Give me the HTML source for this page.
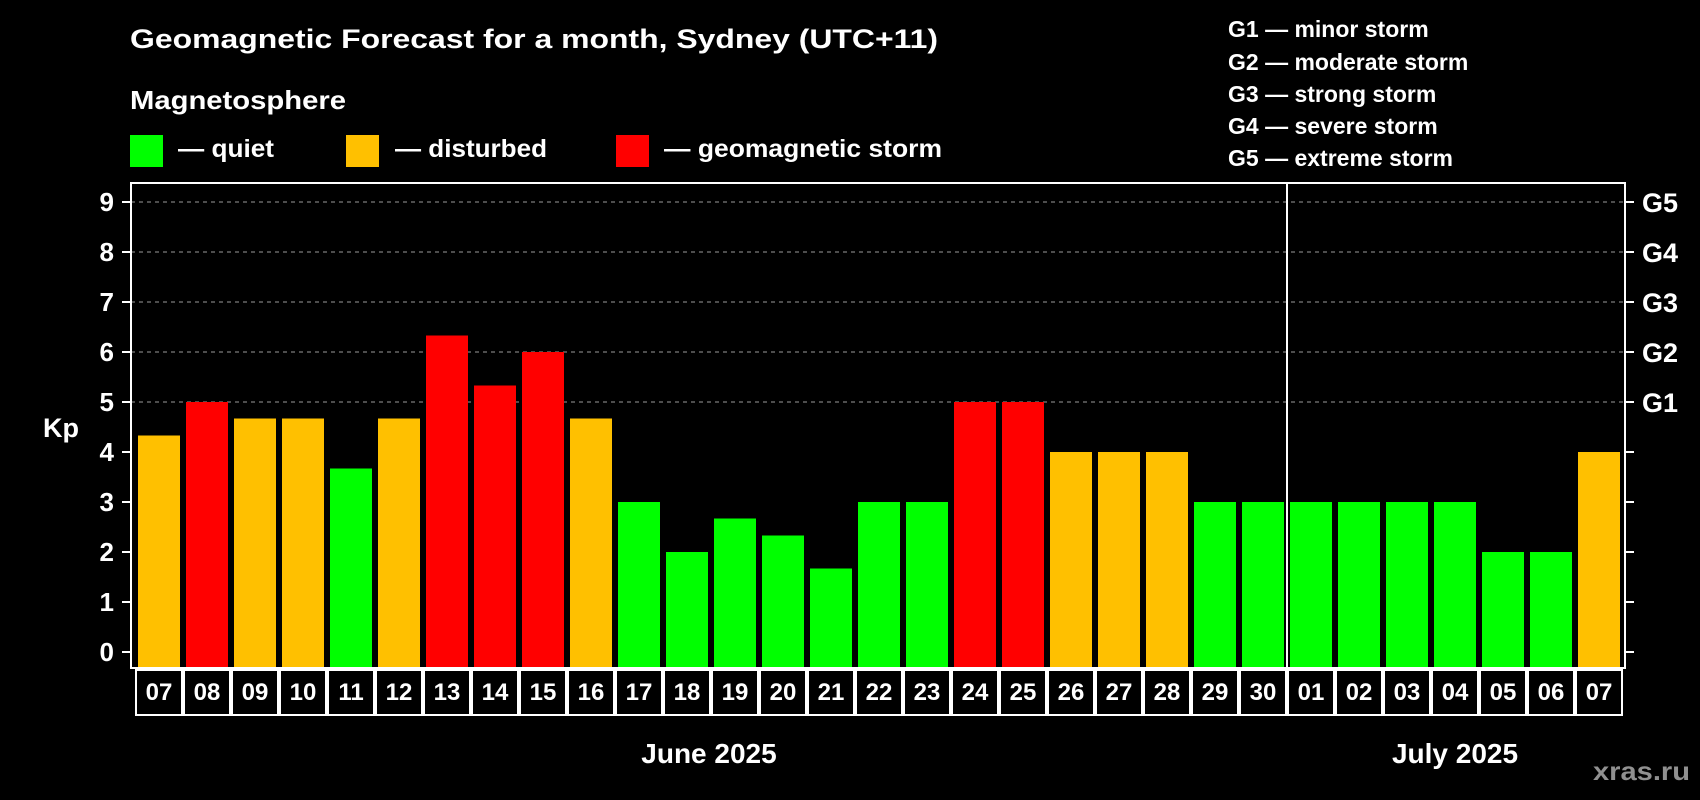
<!DOCTYPE html>
<html><head><meta charset="utf-8"><style>
html,body{margin:0;padding:0;background:#000;}
svg{display:block;font-family:"Liberation Sans",Arial,sans-serif;font-weight:bold;}
</style></head><body>
<svg id="chart" width="1700" height="800" viewBox="0 0 1700 800" xmlns="http://www.w3.org/2000/svg">
<rect width="1700" height="800" fill="#000"/>
<text x="130" y="48" fill="#fff" font-size="27" textLength="808" lengthAdjust="spacingAndGlyphs">Geomagnetic Forecast for a month, Sydney (UTC+11)</text>
<text x="130" y="109" fill="#fff" font-size="26" textLength="216" lengthAdjust="spacingAndGlyphs">Magnetosphere</text>
<g>
<rect x="130" y="135" width="33" height="32" fill="#00ff00"/>
<text x="178" y="157" fill="#fff" font-size="25" textLength="96" lengthAdjust="spacingAndGlyphs">— quiet</text></g>
<g>
<rect x="346" y="135" width="33" height="32" fill="#ffc000"/>
<text x="395" y="157" fill="#fff" font-size="25" textLength="152" lengthAdjust="spacingAndGlyphs">— disturbed</text></g>
<g>
<rect x="616" y="135" width="33" height="32" fill="#ff0000"/>
<text x="664" y="157" fill="#fff" font-size="25" textLength="278" lengthAdjust="spacingAndGlyphs">— geomagnetic storm</text></g>
<g fill="#fff" font-size="23">
<text x="1228" y="37">G1 — minor storm</text>
<text x="1228" y="70">G2 — moderate storm</text>
<text x="1228" y="102">G3 — strong storm</text>
<text x="1228" y="134">G4 — severe storm</text>
<text x="1228" y="166">G5 — extreme storm</text>
</g>
<g id="plot"></g>
<text x="43" y="437" fill="#fff" font-size="27">Kp</text>
<text x="709" y="763" fill="#fff" font-size="28" text-anchor="middle">June 2025</text>
<text x="1455" y="763" fill="#fff" font-size="28" text-anchor="middle">July 2025</text>
<text x="1593" y="780" fill="#909090" font-size="26" textLength="97" lengthAdjust="spacingAndGlyphs">xras.ru</text>
</svg>
<script>
const days = ["07","08","09","10","11","12","13","14","15","16","17","18","19","20","21","22","23","24","25","26","27","28","29","30","01","02","03","04","05","06","07"];
const kpValues = [4.33,5,4.67,4.67,3.67,4.67,6.33,5.33,6,4.67,3,2,2.67,2.33,1.67,3,3,5,5,4,4,4,3,3,3,3,3,3,2,2,4];
const yTicks = [0,1,2,3,4,5,6,7,8,9];
const gLabels = ["G1","G2","G3","G4","G5"];
const gLevels = [5,6,7,8,9];
const monthSplitIndex = 24;

const NS = "http://www.w3.org/2000/svg";
const plot = document.getElementById("plot");
const L = 131, R = 1625, T = 183, B = 668;
const x0 = 159, pitch = 48, bw = 42;
function yScale(v){ return 652 - 50 * v; }
function xCenter(i){ return x0 + pitch * i; }
function colorFor(v){ return v >= 5 ? "#ff0000" : (v >= 4 ? "#ffc000" : "#00ff00"); }
function mk(tag, attrs){ const e = document.createElementNS(NS, tag); for (const k in attrs) e.setAttribute(k, attrs[k]); plot.appendChild(e); return e; }

// gridlines
gLevels.forEach(v => {
  const g = mk("line", {x1: L, x2: R, y1: yScale(v), y2: yScale(v), stroke: "#9a9a9a", "stroke-width": 1, "stroke-dasharray": "4,4"});
  
  
});
// bars
kpValues.forEach((v, i) => {
  const b = mk("rect", {x: xCenter(i) - bw/2, y: yScale(v), width: bw, height: B - yScale(v), fill: colorFor(v)});
  
  
});
// month separator
const sx = (xCenter(monthSplitIndex - 1) + xCenter(monthSplitIndex)) / 2;
const sep = mk("line", {x1: sx, x2: sx, y1: T, y2: 716, stroke: "#fff", "stroke-width": 2});


// frame
const fr = mk("rect", {x: L, y: T, width: R - L, height: B - T, fill: "none", stroke: "#fff", "stroke-width": 2});


// y ticks
yTicks.forEach(v => {
  const t = mk("line", {x1: 122, x2: L, y1: yScale(v), y2: yScale(v), stroke: "#fff", "stroke-width": 2});
  
  
  const t2 = mk("line", {x1: R, x2: 1634, y1: yScale(v), y2: yScale(v), stroke: "#fff", "stroke-width": 2});
  
  
  const lb = mk("text", {x: 114, y: yScale(v) + 9, fill: "#fff", "font-size": 26, "text-anchor": "end"});
  lb.textContent = String(v);
  
  
});
gLabels.forEach((g, i) => {
  const lb = mk("text", {x: 1642, y: yScale(gLevels[i]) + 10, fill: "#fff", "font-size": 27});
  lb.textContent = g;
  
  
});
// day label boxes
days.forEach((d, i) => {
  const c = xCenter(i);
  const bx = mk("rect", {x: c - 24 + 1, y: 670, width: pitch - 2, height: 45, fill: "#000", stroke: "#fff", "stroke-width": 2});
  
  
  const tx = mk("text", {x: c, y: 700, fill: "#fff", "font-size": 24, "text-anchor": "middle"});
  tx.textContent = d;
  
  
});
</script>
</body></html>
